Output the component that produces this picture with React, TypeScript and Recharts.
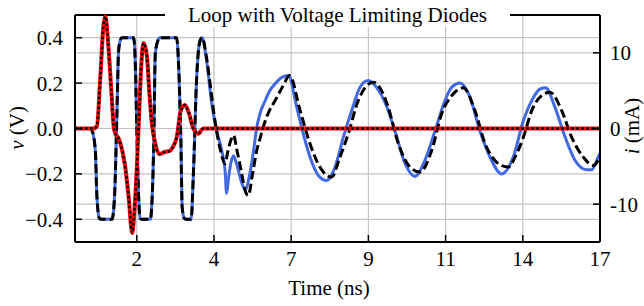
import { LineChart, Line, XAxis, YAxis, CartesianGrid, ReferenceLine } from 'recharts'

const FONT = "'Liberation Serif', 'DejaVu Serif', 'Times New Roman', serif"
const TITLE = 'Loop with Voltage Limiting Diodes'

// x ticks sit evenly spaced, labels as printed on the figure
const X_TICKS = [2, 4.5, 7, 9.5, 12, 14.5, 17]
const X_TICK_LABELS = ['2', '4', '7', '9', '11', '14', '17']
const V_TICKS = [-0.4, -0.2, 0, 0.2, 0.4]
const I_TICKS = [-10, 0, 10]

// voltage, clipped part (shared by simulation and reference)
const T_CLIP = [
  0, 0.5, 0.57, 0.66, 0.71, 0.79, 0.85, 1.2, 1.28, 1.36,
  1.41, 1.47, 1.52, 1.9, 1.95, 2.0, 2.06, 2.11, 2.16, 2.44,
  2.5, 2.55, 2.6, 2.69, 2.74, 3.29, 3.37, 3.43, 3.47, 3.54,
  3.59, 3.76, 3.83, 3.94, 4.05, 4.12,
]
const V_CLIP = [
  0, 0, -0.016, -0.1, -0.3, -0.396, -0.4, -0.4, -0.3, 0.08,
  0.34, 0.39, 0.4, 0.4, 0.3, 0.006, -0.3, -0.396, -0.4, -0.4,
  -0.3, -0.066, 0.33, 0.39, 0.4, 0.4, 0.226, -0.066, -0.346, -0.396,
  -0.4, -0.4, -0.214, 0.226, 0.387, 0.4,
]

// voltage ringing, simulation (blue)
const T_SIM = [
  4.26, 4.43, 4.59, 4.75, 4.86, 4.91, 4.97, 5.05, 5.13, 5.24,
  5.4, 5.52, 5.6, 5.7, 5.8, 5.88, 6.0, 6.15, 6.3, 6.5,
  6.7, 6.91, 7.18, 7.39, 7.61, 7.88, 8.15, 8.42, 8.69, 8.96,
  9.23, 9.5, 9.77, 10.04, 10.36, 10.69, 11.01, 11.33, 11.66, 11.98,
  12.2, 12.47, 12.79, 13.11, 13.44, 13.81, 14.19, 14.52, 14.79, 15.06,
  15.24, 15.54, 15.87, 16.19, 16.57, 16.73, 16.94, 17,
]
const V_SIM = [
  0.3, 0.108, -0.01, -0.097, -0.185, -0.285, -0.22, -0.15, -0.12, -0.16,
  -0.24, -0.27, -0.24, -0.17, -0.08, 0.0, 0.07, 0.12, 0.165, 0.2,
  0.225, 0.233, 0.094, -0.023, -0.126, -0.207, -0.229, -0.17, -0.038, 0.079,
  0.182, 0.211, 0.18, 0.115, -0.01, -0.155, -0.211, -0.14, -0.01, 0.123,
  0.182, 0.2, 0.138, -0.01, -0.126, -0.2, -0.126, 0.035, 0.123, 0.174,
  0.179, 0.094, -0.038, -0.14, -0.182, -0.182, -0.126, -0.11,
]

// voltage ringing, reference (black dashed)
const T_REF = [
  4.25, 4.4, 4.53, 4.7, 4.86, 4.95, 5.05, 5.13, 5.25, 5.4,
  5.5, 5.61, 5.75, 5.88, 6.0, 6.15, 6.3, 6.48, 6.74, 6.95,
  7.29, 7.61, 7.93, 8.31, 8.58, 8.85, 9.17, 9.66, 9.98, 10.14,
  10.47, 10.85, 11.17, 11.55, 11.87, 12.2, 12.57, 12.95, 13.28, 13.65,
  14.03, 14.25, 14.52, 14.79, 15.11, 15.38, 15.76, 16.08, 16.46, 16.78, 17,
]
const V_REF = [
  0.32, 0.17, 0.035, -0.09, -0.155, -0.1, -0.05, -0.03, -0.1, -0.2,
  -0.27, -0.295, -0.2, -0.1, -0.04, 0.03, 0.08, 0.123, 0.189, 0.233,
  0.079, -0.067, -0.17, -0.214, -0.126, -0.023, 0.123, 0.204, 0.152, 0.094,
  -0.067, -0.17, -0.192, -0.097, 0.064, 0.145, 0.179, 0.079, -0.067, -0.148,
  -0.17, -0.126, -0.038, 0.079, 0.145, 0.16, 0.079, -0.038, -0.126, -0.163, -0.126,
]

// diode current (mA)
const T_I = [
  0, 0.6, 0.71, 0.82, 0.93, 0.98, 1.09, 1.18, 1.26, 1.31,
  1.41, 1.47, 1.63, 1.74, 1.85, 1.95, 2.06, 2.15, 2.22, 2.33,
  2.41, 2.49, 2.6, 2.73, 2.9, 3.05, 3.15, 3.29, 3.43, 3.56,
  3.69, 3.83, 3.99, 4.15, 4.4, 17,
]
const I_DIODE = [
  0, 0, 0.3, 6.8, 13.9, 14.8, 10.4, 4.7, 0, -0.7,
  -1.3, -2.0, -5.2, -9.2, -13.8, -9.2, 0.2, 8.6, 11.3, 9.5,
  4.6, 0.6, -2.0, -3.4, -3.1, -3.0, -2.6, -1.2, 2.4, 3.1,
  2.0, 0, -0.7, 0, 0, 0,
]

const clip = T_CLIP.map((t, i) => ({ t, v: V_CLIP[i] }))
const simData = [...clip, ...T_SIM.map((t, i) => ({ t, v: V_SIM[i] }))]
const refData = [...clip, ...T_REF.map((t, i) => ({ t, v: V_REF[i] }))]
const curData = T_I.map((t, i) => ({ t, i: I_DIODE[i] }))

const tickStyle = { fontFamily: FONT, fontSize: 21, fill: '#000' }
const axisLine = { stroke: '#000', strokeWidth: 2 }
const tickLine = { stroke: '#000', strokeWidth: 1.5 }
const GRID = '#c4c4c4'

export default function App() {
  return (
    <div style={{ position: 'absolute', left: 0, top: 0, width: 644, height: 306, background: '#fff', fontFamily: FONT }}>
      <LineChart width={644} height={306} margin={{ top: 15, right: 0, bottom: 0, left: 0 }}>
        <CartesianGrid yAxisId="v" stroke={GRID} strokeWidth={1.2} />
        <CartesianGrid yAxisId="i" vertical={false} stroke={GRID} strokeWidth={1.2} />
        <XAxis
          dataKey="t"
          type="number"
          domain={[0, 17]}
          ticks={X_TICKS}
          interval={0}
          tickFormatter={(v) => X_TICK_LABELS[X_TICKS.indexOf(v)]}
          height={64}
          tickSize={-7}
          tickMargin={16}
          tick={tickStyle}
          axisLine={axisLine}
          tickLine={tickLine}
          label={{
            content: () => (
              <text x={329} y={295} textAnchor="middle" style={{ fontFamily: FONT }} fontSize={21} fill="#000">
                Time (ns)
              </text>
            ),
          }}
        />
        <YAxis
          yAxisId="v"
          type="number"
          domain={[-0.5, 0.5]}
          ticks={V_TICKS}
          interval={0}
          tickFormatter={(v) => v.toFixed(1).replace('-', '\u2212')}
          width={75}
          tickSize={-7}
          tickMargin={19}
          tick={tickStyle}
          axisLine={axisLine}
          tickLine={tickLine}
          label={{
            content: () => (
              <text transform="translate(24,128) rotate(-90)" textAnchor="middle" style={{ fontFamily: FONT }} fontSize={21} fill="#000">
                <tspan fontStyle="italic">v</tspan> (V)
              </text>
            ),
          }}
        />
        <YAxis
          yAxisId="i"
          orientation="right"
          type="number"
          domain={[-15, 15]}
          ticks={I_TICKS}
          interval={0}
          width={44}
          tickSize={-7}
          tickMargin={17}
          tick={tickStyle}
          axisLine={axisLine}
          tickLine={tickLine}
          label={{
            content: () => (
              <text transform="translate(639,126) rotate(-90)" textAnchor="middle" style={{ fontFamily: FONT }} fontSize={21} fill="#000">
                <tspan fontStyle="italic">i</tspan> (mA)
              </text>
            ),
          }}
        />
        <ReferenceLine yAxisId="v" y={0.5} stroke="#000" strokeWidth={2} />
        <Line yAxisId="v" data={simData} dataKey="v" type="monotone" stroke="#4169e1" strokeWidth={3} dot={false} isAnimationActive={false} />
        <Line yAxisId="v" data={refData} dataKey="v" type="monotone" stroke="#000" strokeWidth={3} strokeDasharray="9 4" dot={false} isAnimationActive={false} />
        <Line yAxisId="i" data={curData} dataKey="i" type="monotone" stroke="#ff0000" strokeWidth={4} dot={false} isAnimationActive={false} />
        <Line yAxisId="i" data={curData} dataKey="i" type="monotone" stroke="#000" strokeWidth={2.5} strokeDasharray="2.5 2.5" dot={false} isAnimationActive={false} />
      </LineChart>
      <div
        style={{
          position: 'absolute',
          left: 165,
          top: 3,
          width: 345,
          textAlign: 'center',
          background: '#fff',
          fontFamily: FONT,
          fontSize: 21,
          lineHeight: '24px',
        }}
      >
        {TITLE}
      </div>
    </div>
  )
}
